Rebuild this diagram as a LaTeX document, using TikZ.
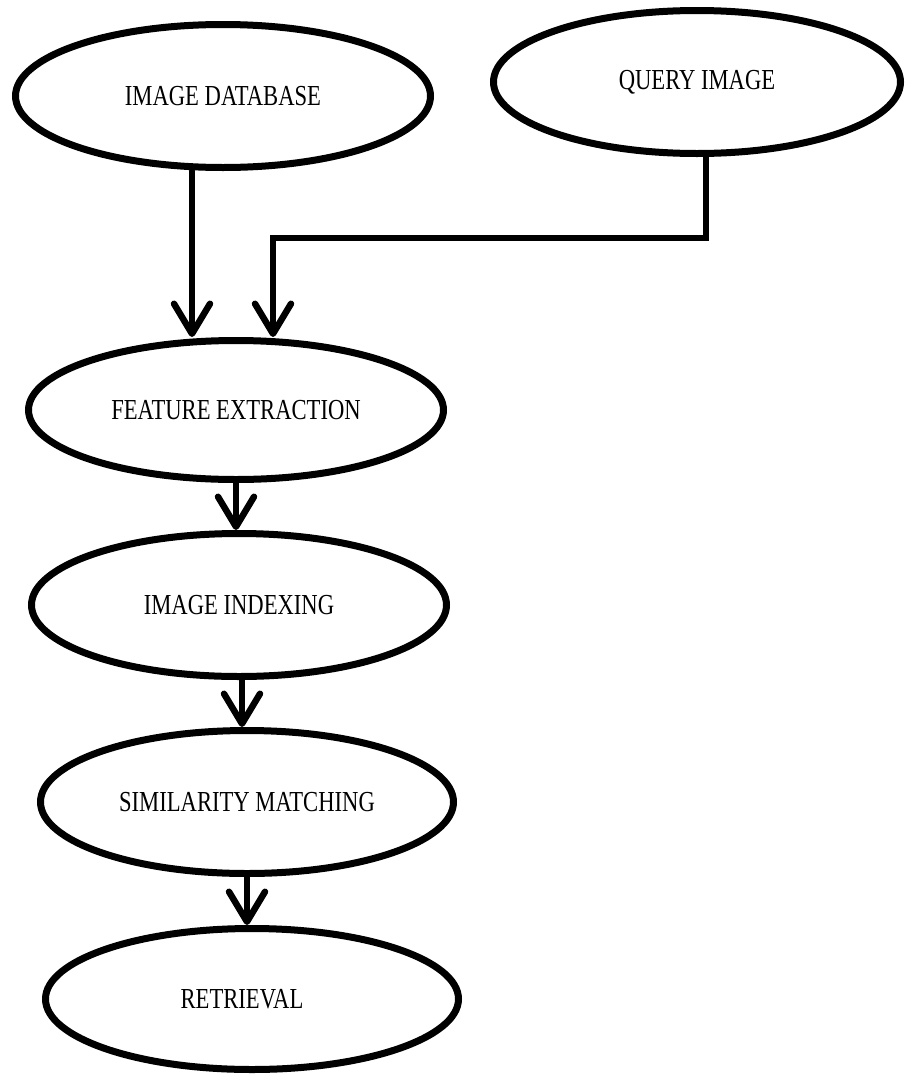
\documentclass[tikz,border=0pt]{standalone}
\usepackage{fontspec}
\usepackage{graphicx}
\setmainfont{Liberation Serif}
\usetikzlibrary{shapes.geometric,arrows.meta}
\tikzset{
  oval/.style={ellipse, draw=black, line width=7pt, inner sep=0pt, fill=white,
    font=\fontsize{29}{29}\selectfont},
  conn/.style={draw=black, line width=6.5pt, line cap=round,
    -{Straight Barb[length=30pt,width=36pt,round]}},
}
\newcommand{\ctxt}[1]{\scalebox{0.78}[1]{#1}}
\begin{document}
\begin{tikzpicture}[x=1pt,y=-1pt]
\useasboundingbox[fill=white] (0,0) rectangle (906,1074);
\node[oval, minimum width=415pt, minimum height=143pt] (db) at (223,96) {\ctxt{IMAGE DATABASE}};
\node[oval, minimum width=407pt, minimum height=143pt] (q) at (697,82) {\raisebox{4pt}{\ctxt{QUERY IMAGE}}};
\node[oval, minimum width=415pt, minimum height=139pt] (fe) at (236,410) {\raisebox{-6pt}{\ctxt{FEATURE EXTRACTION}}};
\node[oval, minimum width=415pt, minimum height=143pt] (ii) at (239,605) {\ctxt{IMAGE INDEXING}};
\node[oval, minimum width=413pt, minimum height=143pt] (sm) at (247,802) {\raisebox{-6pt}{\ctxt{SIMILARITY MATCHING}}};
\node[oval, minimum width=413pt, minimum height=141pt] (r) at (252,999) {\raisebox{-4pt}{\hspace*{-20pt}\ctxt{RETRIEVAL}}};
\draw[conn] ([xshift=-31pt]db.south) -- ([xshift=-44pt]fe.north);
\draw[conn] ([xshift=9pt]q.south) -- ++(0,-81pt) coordinate (qbend) -| ([xshift=37pt]fe.north);
\draw[conn] (fe.south) -- (fe.south |- ii.north);
\draw[conn] ([xshift=3pt]ii.south) -- ([xshift=3pt]ii.north |- sm.north);
\draw[conn] (sm.south) -- (sm.south |- r.north);
\end{tikzpicture}
\end{document}
